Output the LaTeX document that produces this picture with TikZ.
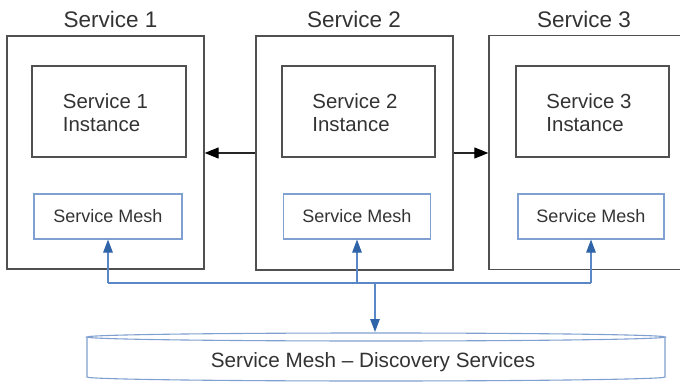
\documentclass[tikz,border=0pt]{standalone}
\usepackage{fontspec}
\setmainfont{Liberation Sans}
\usetikzlibrary{arrows.meta,calc}
\definecolor{ink}{HTML}{333333}
\definecolor{frame}{HTML}{505050}
\definecolor{meshedge}{HTML}{7FA0D0}
\definecolor{busblue}{HTML}{5A88C6}
\definecolor{tipblue}{HTML}{2F64A8}
\tikzset{
  outerbox/.style={draw=frame, line width=1.3pt, minimum width=197pt, minimum height=233pt, inner sep=0pt},
  instbox/.style={draw=frame, line width=1.3pt, minimum width=154pt, minimum height=91pt, inner sep=0pt},
  meshbox/.style={draw=meshedge, line width=1.1pt, minimum width=148pt, minimum height=45pt, inner sep=0pt,
    text=ink, font=\fontsize{18}{21}\selectfont},
  titletext/.style={text=ink, font=\fontsize{22.5}{27}\selectfont, inner sep=0pt},
  insttext/.style={text=ink, font=\fontsize{20.4}{23}\selectfont, align=left, inner sep=0pt},
  flow/.style={draw=black!85, line width=1.1pt, -{Triangle[length=14pt,width=11pt,color=black]}},
  bus/.style={draw=busblue, line width=1.1pt},
  busarrow/.style={bus, -{Triangle[length=13pt,width=9.5pt,color=tipblue]}},
}
\begin{document}
\begin{tikzpicture}[x=1pt,y=-1pt]
\useasboundingbox (0,0) rectangle (680,382);
\clip (0,0) rectangle (680,382);

% service containers
\node[outerbox] (b1) at (105.5,152.5) {};
\node[outerbox, minimum height=234pt] (b2) at (354.5,153) {};
\node[outerbox, minimum height=234pt] (b3) at (587.5,152.5) {};

\node[titletext] (t1) at (110.5,19) {Service 1};
\node[titletext] (t2) at (354,19) {Service 2};
\node[titletext] (t3) at (584,19) {Service 3};

% service instances
\node[instbox] (i1) at (109,111.5) {};
\node[instbox, minimum width=153pt] (i2) at (358.5,111.5) {};
\node[instbox, minimum width=153pt] (i3) at (592.5,111.5) {};
\node[insttext] (i1t) at ([xshift=-3.5pt,yshift=-1.5pt]i1.center) {Service 1\\Instance};
\node[insttext] (i2t) at ([xshift=-3.5pt,yshift=-1.5pt]i2.center) {Service 2\\Instance};
\node[insttext] (i3t) at ([xshift=-3.5pt,yshift=-1.5pt]i3.center) {Service 3\\Instance};

% mesh sidecars
\node[meshbox] (m1) at (108,216.5) {Service Mesh};
\node[meshbox, minimum width=147pt] (m2) at (357,216.5) {Service Mesh};
\node[meshbox, minimum width=146pt] (m3) at (591,216.5) {Service Mesh};

% calls between services
\draw[flow] (b2.west) -- (b1.east |- b2.west);
\draw[flow] (b2.east) -- (b3.west |- b2.east);

% discovery store
\draw[draw=meshedge, line width=1.1pt]
  (87,337) -- (87,377) arc[start angle=180, end angle=360, x radius=289pt, y radius=4pt]
  -- (665,337);
\draw[draw=meshedge, line width=1.1pt] (376,337) ellipse[x radius=289pt, y radius=4pt];
\node[text=ink, font=\fontsize{20.7}{24}\selectfont, inner sep=0pt] (disc) at (373,362)
  {Service Mesh – Discovery Services};
\coordinate (disctop) at (375,332);

% discovery bus
\coordinate (j1) at (m1.south |- 0,283);
\coordinate (j2) at (m2.south |- 0,283);
\coordinate (j3) at (m3.south |- 0,283);
\coordinate (jd) at (disctop |- 0,283);
\draw[bus] (j1) -- (j3);
\draw[busarrow] (j1) -- (m1.south);
\draw[busarrow] (j2) -- (m2.south);
\draw[busarrow] (j3) -- (m3.south);
\draw[busarrow] (jd) -- (disctop);
\end{tikzpicture}
\end{document}
